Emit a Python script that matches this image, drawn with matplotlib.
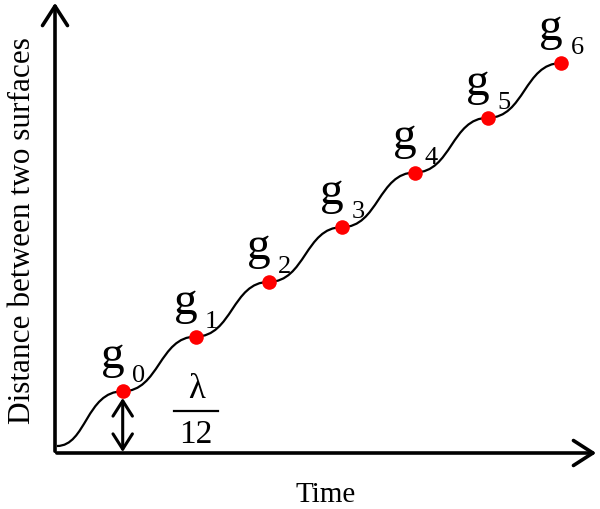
import matplotlib
matplotlib.use("Agg")
import matplotlib.pyplot as plt
from matplotlib.path import Path
from matplotlib.patches import PathPatch, FancyArrowPatch

plt.rcParams['font.family'] = ['Liberation Serif', 'DejaVu Serif']

# step points (time, distance) of the curve, in step units
times = [0, 1, 2, 3, 4, 5, 6]
dists = [0, 1, 2, 3, 4, 5, 6]
names = ["0", "1", "2", "3", "4", "5", "6"]
start_t, start_d = -0.9, -1.0   # where the curve begins, on the flat below g0
x_label = "Time"
y_label = "Distance between two surfaces"

# pixel mapping of the reference picture
X0, SX, Y0, SY = 122.7, 73.05, 392.3, 54.7
def tx(px):
    return (px - X0) / SX
def ty(py):
    return (Y0 - py) / SY

fig = plt.figure(figsize=(6, 5.1), dpi=100)
ax = fig.add_axes([0, 0, 1, 1])
ax.set_xlim(tx(0), tx(600))
ax.set_ylim(ty(510), ty(0))
ax.axis("off")

# staircase curve: one S-shaped cubic step between consecutive points
verts = [(start_t, start_d)]
codes = [Path.MOVETO]
prev_d = start_d
for t, d in zip(times, dists):
    mid = t - 0.5
    verts += [(mid, prev_d), (mid, d), (t, d)]
    codes += [Path.CURVE4] * 3
    prev_d = d
ax.add_patch(PathPatch(Path(verts, codes), fill=False, lw=1.6, color="black", zorder=2))

ax.scatter(times, dists, s=110, color="#ff0000", zorder=3, linewidths=0)

for t, d, n in zip(times, dists, names):
    ax.text(t - 10 / SX, d + 24 / SY, "g", fontsize=34, ha="center", va="baseline")
    ax.text(t + 16 / SX, d + 10 / SY, n, fontsize=19, ha="center", va="baseline")

# axes with arrows
ax.add_patch(FancyArrowPatch((tx(55), ty(455)), (tx(55), ty(1)),
                             arrowstyle="->,head_length=0.7,head_width=0.45",
                             mutation_scale=20, lw=2.6, color="black", zorder=4))
ax.add_patch(FancyArrowPatch((tx(54), ty(454)), (tx(599), ty(454)),
                             arrowstyle="->,head_length=0.7,head_width=0.45",
                             mutation_scale=20, lw=2.6, color="black", zorder=4))

# lambda/12 marker
ax.add_patch(FancyArrowPatch((times[0], ty(399)), (times[0], ty(453)),
                             arrowstyle="<->,head_length=0.55,head_width=0.35",
                             mutation_scale=20, lw=2.2, color="black", zorder=4,
                             shrinkA=0, shrinkB=0))
ax.text(tx(197), ty(398), "λ", fontsize=25, ha="center", va="baseline")
ax.plot([tx(174), tx(218)], [ty(412), ty(412)], color="black", lw=1.6)
ax.text(tx(196), ty(443), "12", fontsize=24, ha="center", va="baseline")

ax.text(tx(326), ty(502), x_label, fontsize=21, ha="center", va="baseline")
ax.text(tx(30), ty(231), y_label, fontsize=22.5, ha="center", va="baseline",
        rotation=90, rotation_mode="anchor")

fig.savefig("out.png", dpi=100)
